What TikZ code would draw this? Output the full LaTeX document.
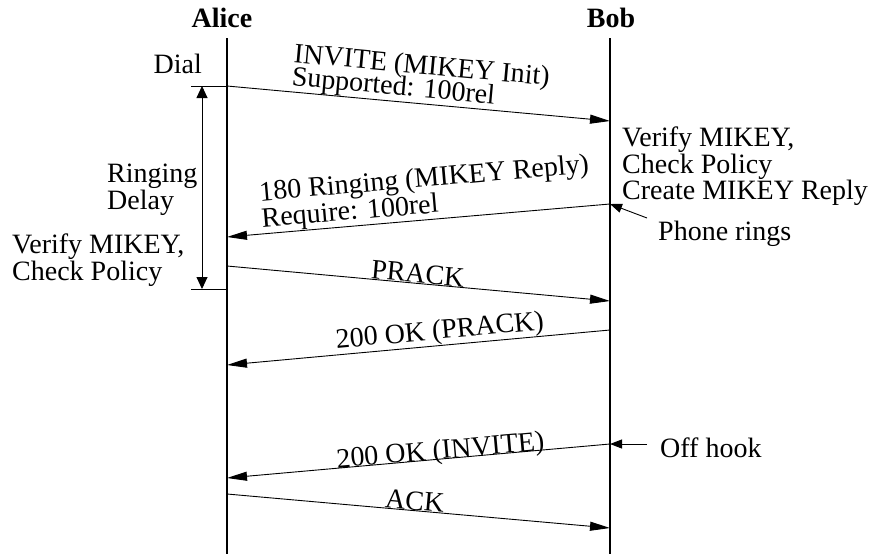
\documentclass[tikz,border=0pt]{standalone}
\usepackage{fontspec}
\setmainfont{Liberation Serif}
\usetikzlibrary{arrows.meta}
\tikzset{
  every picture/.style={x=1pt, y=-1pt, font=\fontsize{28pt}{24pt}\selectfont},
  lifeline/.style={line width=1.6pt},
  msg/.style={-{Triangle[length=20pt, width=9pt]}, line width=0.9pt},
  pointer/.style={-{Triangle[length=12pt, width=9pt]}, line width=0.9pt},
  span/.style={{Triangle[length=12pt, width=11pt]}-{Triangle[length=12pt, width=11pt]}, line width=0.9pt},
  tick/.style={line width=0.9pt},
  party/.style={font=\fontsize{28pt}{24pt}\selectfont\bfseries, inner sep=0pt, anchor=base},
  note/.style={align=left, inner sep=0pt},
  msgtext/.style={sloped, anchor=south, inner sep=0pt, align=left},
}

\begin{document}
\begin{tikzpicture}
  \useasboundingbox (0,0) rectangle (874,554);
  % parties and lifelines
  \node[party] (alice) at (222,27) {Alice};
  \node[party] (bob) at (611,27) {Bob};
  \coordinate (a-top) at (227,38); \coordinate (a-bot) at (227,554);
  \coordinate (b-top) at (610,38); \coordinate (b-bot) at (610,554);
  \draw[lifeline] (a-top) -- (a-bot);
  \draw[lifeline] (b-top) -- (b-bot);
  % event points on the lifelines
  \foreach \n/\y in {inv/86, ring/237, prack/266, okp/365, oki/478, ack/494}
    \coordinate (a-\n) at (227,\y);
  \foreach \n/\y in {inv/121, ring/204, prack/301, okp/330, oki/444, ack/528}
    \coordinate (b-\n) at (610,\y);
  % messages
  \draw[msg] (a-inv) -- node[msgtext] {INVITE (MIKEY Init)\\[-3pt]Supported: 100rel} (b-inv);
  \draw[msg] (b-ring) -- node[msgtext, pos=0.476] {180 Ringing (MIKEY Reply)\\Require: 100rel} (a-ring);
  \draw[msg] (a-prack) -- node[msgtext, pos=0.496] {PRACK} (b-prack);
  \draw[msg] (b-okp) -- node[msgtext, pos=0.441] {200 OK (PRACK)} (a-okp);
  \draw[msg] (b-oki) -- node[msgtext, pos=0.441, anchor=base] {200 OK (INVITE)} (a-oki);
  \draw[msg] (a-ack) -- node[msgtext, pos=0.488] {ACK} (b-ack);
  % ringing delay on Alice's side
  \coordinate (d-top) at (191,86); \coordinate (d-bot) at (191,289);
  \coordinate (a-end) at (227,289);
  \coordinate (s-top) at (202,86); \coordinate (s-bot) at (202,289);
  \draw[tick] (d-top) -- (a-inv);
  \draw[tick] (d-bot) -- (a-end);
  \draw[span] (s-top) -- (s-bot);
  \node[note, anchor=base east] (dial) at (202,73) {Dial};
  \node[note, anchor=north west] (delay) at (107,164) {Ringing\\Delay};
  \node[note, anchor=north west] (a-check) at (12,234) {Verify MIKEY,\\Check Policy};
  % Bob's side
  \node[note, anchor=north west] (b-check) at (622,127) {Verify MIKEY,\\Check Policy\\Create MIKEY Reply};
  \node[note, anchor=base west] (rings) at (658,240) {Phone rings};
  \node[note, anchor=base west] (offhook) at (660,457) {Off hook};
  \coordinate (rings-tail) at (647,218);
  \coordinate (hook-tail) at (647,444);
  \draw[pointer] (rings-tail) -- (b-ring);
  \draw[pointer] (hook-tail) -- (b-oki);
\end{tikzpicture}
\end{document}
